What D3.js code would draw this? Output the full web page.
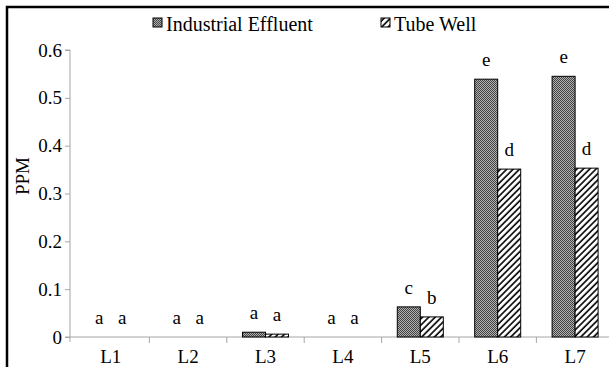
<!DOCTYPE html>
<html>
<head>
<meta charset="utf-8">
<script src="https://cdn.jsdelivr.net/npm/d3@7"></script>
<style>
  html, body { margin: 0; padding: 0; background: #fff; }
  svg { display: block; }
  svg text { font-family: 'Liberation Serif', 'DejaVu Serif', serif !important; }
</style>
</head>
<body>
<svg id="chart" width="609" height="367"></svg>
<script>
const categories = ["L1", "L2", "L3", "L4", "L5", "L6", "L7"];
const seriesNames = ["Industrial Effluent", "Tube Well"];
const industrialEffluent = [0, 0, 0.010, 0, 0.063, 0.539, 0.545];
const tubeWell = [0, 0, 0.006, 0, 0.042, 0.351, 0.353];
const ieLetters = ["a", "a", "a", "a", "c", "e", "e"];
const twLetters = ["a", "a", "a", "a", "b", "d", "d"];
const yTicks = [0, 0.1, 0.2, 0.3, 0.4, 0.5, 0.6];

const svg = d3.select("#chart");
const defs = svg.append("defs");

const p1 = defs.append("pattern").attr("id", "pIE").attr("patternUnits", "userSpaceOnUse")
  .attr("width", 2).attr("height", 2);
p1.append("rect").attr("width", 2).attr("height", 2).attr("fill", "#b0b0b0");
p1.append("rect").attr("x", 0).attr("y", 0).attr("width", 1).attr("height", 1).attr("fill", "#444");
p1.append("rect").attr("x", 1).attr("y", 1).attr("width", 1).attr("height", 1).attr("fill", "#444");

const p2 = defs.append("pattern").attr("id", "pTW").attr("patternUnits", "userSpaceOnUse")
  .attr("width", 4.5).attr("height", 4.5).attr("patternTransform", "rotate(45)");
p2.append("rect").attr("width", 4.5).attr("height", 4.5).attr("fill", "#fff");
p2.append("line").attr("x1", 1).attr("y1", 0).attr("x2", 1).attr("y2", 4.5)
  .attr("stroke", "#000").attr("stroke-width", 1.6);

const fills = ["url(#pIE)", "url(#pTW)"];

svg.append("rect").attr("x", 7).attr("y", 7).attr("width", 640).attr("height", 420)
  .attr("fill", "none").attr("stroke", "#000").attr("stroke-width", 2.5);

const x0 = 72, plotTop = 50, plotBottom = 337, catW = 77.4;
const x = d3.scaleBand().domain(categories).range([x0, x0 + catW * categories.length])
  .paddingInner(0).paddingOuter(0);
const y = d3.scaleLinear().domain([0, 0.6]).range([plotBottom, plotTop]);
const barW = 23;
const axisColor = "#a6a6a6";

const yAxis = svg.append("g").attr("transform", `translate(${x0 - 2},0)`)
  .call(d3.axisLeft(y).tickValues(yTicks).tickFormat(d => d === 0 ? "0" : d3.format(".1f")(d)).tickSize(5).tickPadding(3));
yAxis.attr("font-family", null).attr("font-size", null);
yAxis.select(".domain").attr("stroke", axisColor).attr("d", `M-5,${plotTop}H0V${plotBottom + 5}`);
yAxis.selectAll(".tick line").attr("stroke", axisColor);
yAxis.selectAll(".tick text").attr("font-size", 19).attr("fill", "#000");

const xAxisG = svg.append("g").attr("transform", `translate(0,${plotBottom})`);
xAxisG.append("line").attr("x1", x0 - 7).attr("x2", 609).attr("y1", 0).attr("y2", 0)
  .attr("stroke", axisColor);
xAxisG.selectAll("line.tk").data(categories.slice(1)).enter().append("line")
  .attr("class", "tk")
  .attr("x1", d => x(d)).attr("x2", d => x(d)).attr("y1", 0).attr("y2", 6)
  .attr("stroke", axisColor);
xAxisG.selectAll("text").data(categories).enter().append("text")
  .attr("x", d => x(d) + x.bandwidth() / 2).attr("y", 26)
  .attr("text-anchor", "middle").attr("font-size", 19).text(d => d);

const series = [industrialEffluent, tubeWell];
const letters = [ieLetters, twLetters];
series.forEach((vals, si) => {
  const g = svg.append("g");
  g.selectAll("rect").data(categories).enter().append("rect")
    .attr("x", (d) => x(d) + x.bandwidth() / 2 - barW + si * barW)
    .attr("y", (d, i) => y(vals[i]))
    .attr("width", barW)
    .attr("height", (d, i) => y(0) - y(vals[i]))
    .attr("fill", fills[si])
    .attr("stroke", (d, i) => vals[i] > 0 ? "#000" : "none")
    .attr("stroke-width", 1);
  g.selectAll("text").data(categories).enter().append("text")
    .attr("x", d => x(d) + x.bandwidth() / 2 - barW / 2 + si * barW)
    .attr("y", (d, i) => y(vals[i]) - 13)
    .attr("text-anchor", "middle").attr("font-size", 19)
    .text((d, i) => letters[si][i]);
});

const legendItems = [
  { name: seriesNames[0], fill: fills[0], sx: 153 },
  { name: seriesNames[1], fill: fills[1], sx: 381 }
];
legendItems.forEach(it => {
  svg.append("rect").attr("x", it.sx).attr("y", 18).attr("width", 9).attr("height", 9)
    .attr("fill", it.fill).attr("stroke", "#000").attr("stroke-width", 1);
  svg.append("text").attr("x", it.sx + 13).attr("y", 31).attr("font-size", 20).text(it.name);
});

svg.append("text").attr("transform", "translate(29,176) rotate(-90)")
  .attr("text-anchor", "middle").attr("font-size", 19).text("PPM");
</script>
</body>
</html>
